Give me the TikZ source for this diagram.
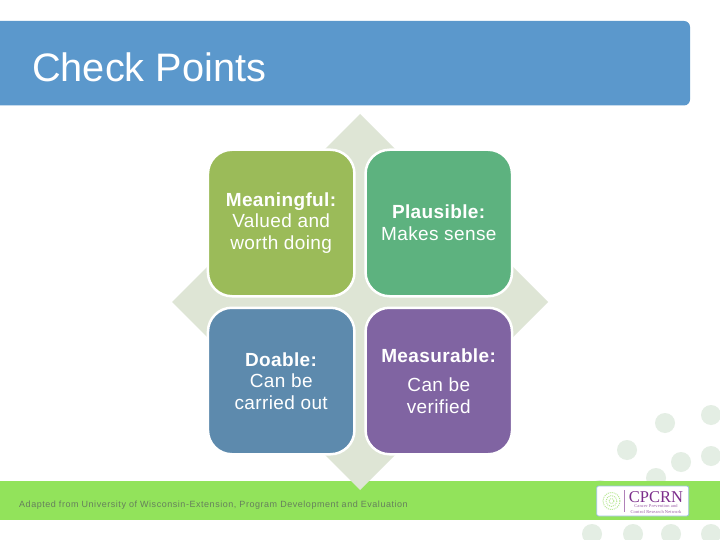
\documentclass[tikz,border=0pt]{standalone}
\usepackage{fontspec}
\usetikzlibrary{shapes.geometric}
\setmainfont{Liberation Sans}
\newfontfamily\logoserif{Liberation Serif}
\definecolor{barblue}{HTML}{5B98CC}
\definecolor{bargreen}{HTML}{92E35B}
\definecolor{diam}{HTML}{DEE5D5}
\definecolor{dotc}{HTML}{E4EEE4}
\definecolor{olivebox}{HTML}{9BBB59}
\definecolor{greenbox}{HTML}{5DB27F}
\definecolor{bluebox}{HTML}{5D8AAD}
\definecolor{purplebox}{HTML}{8064A2}
\definecolor{foot}{HTML}{667F5C}
\definecolor{logop}{HTML}{7B2D8B}
\definecolor{logol}{HTML}{B4E68E}
\newcommand{\logotight}{\lineskiplimit=-20pt\relax}
\tikzset{
  tile/.style={draw=white,line width=2.5pt,rounded corners=24pt,minimum width=146.5pt,minimum height=146.5pt,inner sep=0pt,
    text=white,align=center,font=\fontsize{19}{21.7}\selectfont\addfontfeatures{LetterSpace=2}},
  dotdisc/.style={circle,fill=dotc,minimum size=20pt,inner sep=0pt},
  logoring/.style={logol,line width=0.9pt,dash pattern=on 1pt off 1pt}
}
\begin{document}
\begin{tikzpicture}[x=1pt,y=-1pt]
\useasboundingbox (0,0) rectangle (720,540);
\fill[white] (0,0) rectangle (720,540);
% background discs
\foreach \n/\px/\py in {a/711/415,b/665/423,c/627/450,d/681/462,e/711/456,f/656/478,g/600/490,h/592/534,i/633/534,j/671/534,k/711/534}
  \node[dotdisc] (disc\n) at (\px,\py) {};
% bars
\fill[barblue,rounded corners=6pt] (-10,21) rectangle (690,105.5);
\node[anchor=base west,text=white,inner sep=0pt,font=\fontsize{39.7}{44}\selectfont] (title) at (32,82) {Check Points};
\fill[bargreen] (0,481) rectangle (720,520);
% central diamond
\node[diamond,aspect=1,fill=diam,minimum size=376pt,inner sep=0pt,outer sep=0pt] (dm) at (360,302) {};
% tiles
\node[tile,fill=olivebox] (t1) at (281.2,223) {\textbf{Meaningful:}\\Valued and\\worth doing};
\node[tile,fill=greenbox] (t2) at (438.8,223) {\textbf{Plausible:}\\Makes sense};
\node[tile,fill=bluebox] (t3) at (281.2,381) {\textbf{Doable:}\\Can be\\carried out};
\node[tile,fill=purplebox] (t4) at (438.8,381) {\textbf{Measurable:}\\[8pt]Can be\\verified};
% footer
\node[anchor=base west,text=foot,inner sep=0pt,font=\fontsize{9}{11}\selectfont\addfontfeatures{LetterSpace=6}] (src) at (19,507) {Adapted from University of Wisconsin-Extension, Program Development and Evaluation};
% logo
\node[draw=barblue!60,line width=0.8pt,fill=white,rounded corners=2pt,minimum width=92pt,minimum height=30pt,inner sep=0pt] (logo) at (642.7,501) {};
\draw[logoring] (611.5,501) circle (8.5);
\draw[logoring] (611.5,501) circle (5.5);
\draw[logoring] (611.5,501) circle (2.5);
\draw[logop!60,line width=0.6pt] (624,490) -- (624,512);
\node[anchor=north,text=logop,inner sep=0pt,align=center,font=\logoserif\fontsize{4.4}{5.25}\selectfont\logotight] (lg) at (656,491.4) {%
  {\fontsize{16.5}{5.25}\selectfont CPCRN}\\
  {\addfontfeatures{LetterSpace=4}\color{logop!80}Cancer Prevention and}\\
  {\addfontfeatures{LetterSpace=4}\color{logop!80}Control Research Network}};
\end{tikzpicture}
\end{document}
